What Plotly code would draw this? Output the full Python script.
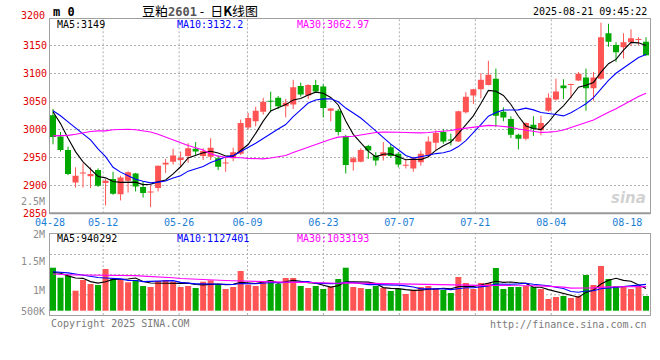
import plotly.graph_objects as go

# ---------------- data ----------------
dates = [
    "04-28", "04-29", "04-30",
    "05-06", "05-07", "05-08", "05-09", "05-12", "05-13", "05-14", "05-15", "05-16",
    "05-19", "05-20", "05-21", "05-22", "05-23", "05-26", "05-27", "05-28", "05-29", "05-30",
    "06-03", "06-04", "06-05", "06-06", "06-09", "06-10", "06-11", "06-12", "06-13",
    "06-16", "06-17", "06-18", "06-19", "06-20", "06-23", "06-24", "06-25", "06-26", "06-27", "06-30",
    "07-01", "07-02", "07-03", "07-04", "07-07", "07-08", "07-09", "07-10", "07-11",
    "07-14", "07-15", "07-16", "07-17", "07-18", "07-21", "07-22", "07-23", "07-24", "07-25",
    "07-28", "07-29", "07-30", "07-31", "08-01",
    "08-04", "08-05", "08-06", "08-07", "08-08", "08-11", "08-12", "08-13", "08-14", "08-15",
    "08-18", "08-19", "08-20", "08-21",
]

opens = [3025, 2987, 2963, 2905, 2921, 2916, 2927, 2904, 2911, 2884,
         2908, 2921, 2897, 2887, 2895, 2937, 2942, 2945, 2952, 2965,
         2952, 2951, 2948, 2939, 2948, 2956, 3003, 3014, 3031, 3050,
         3056, 3041, 3044, 3077, 3060, 3079, 3076, 3033, 3033, 2988,
         2941, 2942, 2970, 2953, 2952, 2968, 2956, 2935, 2930, 2941,
         2953, 2976, 2995, 2981, 2978, 3030, 3060, 3071, 3079, 3090,
         3031, 3018, 2990, 2983, 3008, 2998, 3033, 3053, 3078, 3079,
         3087, 3092, 3073, 3090, 3171, 3150, 3146, 3155, 3159, 3156]
highs = [3036, 2995, 2969, 2932, 2939, 2932, 2930, 2911, 2924, 2917,
         2925, 2922, 2907, 2900, 2935, 2947, 2965, 2960, 2975, 2977,
         2966, 2984, 2953, 2949, 2967, 3017, 3029, 3040, 3056, 3067,
         3059, 3054, 3088, 3083, 3080, 3088, 3080, 3038, 3036, 2990,
         2951, 2966, 2972, 2959, 2977, 2974, 2959, 2947, 2951, 2962,
         2987, 2998, 3000, 2992, 3033, 3066, 3072, 3100, 3122, 3108,
         3039, 3023, 2992, 3012, 3023, 3024, 3064, 3090, 3089, 3081,
         3102, 3108, 3102, 3190, 3188, 3155, 3171, 3178, 3164, 3164]
lows = [2973, 2960, 2918, 2896, 2896, 2895, 2897, 2864, 2883, 2873,
        2887, 2889, 2878, 2861, 2889, 2922, 2937, 2933, 2940, 2953,
        2945, 2945, 2927, 2924, 2943, 2954, 2999, 3005, 3026, 3030,
        3036, 3021, 3036, 3058, 3054, 3065, 3021, 3014, 2989, 2921,
        2926, 2941, 2947, 2935, 2944, 2949, 2932, 2930, 2924, 2935,
        2950, 2962, 2974, 2971, 2977, 3028, 3045, 3055, 3078, 3004,
        3014, 2984, 2964, 2980, 2988, 2989, 3031, 3051, 3054, 3055,
        3086, 3033, 3051, 3088, 3147, 3120, 3126, 3148, 3150, 3131]
closes = [2986, 2963, 2920, 2917, 2922, 2920, 2899, 2908, 2885, 2914,
          2923, 2898, 2886, 2888, 2935, 2940, 2953, 2949, 2966, 2960,
          2961, 2967, 2933, 2940, 2959, 3011, 3020, 3033, 3049, 3049,
          3041, 3047, 3075, 3062, 3079, 3067, 3038, 3037, 2995, 2936,
          2948, 2963, 2962, 2944, 2959, 2952, 2937, 2936, 2948, 2956,
          2978, 2993, 2978, 2980, 3032, 3058, 3071, 3088, 3097, 3024,
          3021, 2990, 2983, 3011, 3001, 3011, 3056, 3067, 3073, 3080,
          3099, 3073, 3092, 3164, 3156, 3137, 3155, 3162, 3160, 3132]
volumes = [1840000, 1412000, 1498000, 856000, 1314000, 1143000, 1100000, 1785000, 1357000, 1314000,
           1216000, 1314000, 1057000, 1014000, 1271000, 1314000, 1241000, 1014000, 1057000, 972000,
           1241000, 1301000, 1143000, 929000, 1014000, 1699000, 1113000, 1057000, 1271000, 1314000,
           1143000, 1400000, 1400000, 1057000, 972000, 1057000, 929000, 1027000, 1357000, 1840000,
           1014000, 972000, 929000, 1057000, 972000, 843000, 929000, 715000, 886000, 1014000,
           1057000, 972000, 886000, 758000, 1442000, 1186000, 929000, 1186000, 1186000, 1828000,
           929000, 1014000, 1014000, 1057000, 1014000, 929000, 501000, 586000, 629000, 544000,
           629000, 1528000, 1100000, 1913000, 1357000, 1057000, 1057000, 929000, 1057000, 629000]

# moving-average values before enough bars exist in this window
price_ma_head = {
    5: [3031, 3010, 2984, 2960],
    10: [3033, 3024, 3013, 3002, 2991, 2981, 2965, 2951, 2932],
    30: [2988, 2988, 2989, 2991, 2994, 2996, 2997, 2997, 2999, 3000,
         3000, 2999, 2997, 2995, 2991, 2986, 2980, 2975, 2971, 2967,
         2963, 2956, 2952, 2950, 2950, 2949, 2948, 2947, 2947],
}
vol_ma_head = {
    5: [1640000, 1600000, 1490000, 1400000],
    10: [1670000, 1650000, 1620000, 1570000, 1510000, 1460000, 1420000, 1400000, 1380000],
    30: [1570000, 1550000, 1540000, 1530000, 1530000, 1530000, 1530000, 1530000, 1520000, 1510000,
         1510000, 1500000, 1480000, 1470000, 1460000, 1440000, 1410000, 1380000, 1360000, 1340000,
         1320000, 1310000, 1300000, 1290000, 1280000, 1270000, 1260000, 1250000, 1245000],
}

tick_dates = ["04-28", "05-12", "05-26", "06-09", "06-23", "07-07", "07-21", "08-04", "08-18"]
price_ticks = [2850, 2900, 2950, 3000, 3050, 3100, 3150]
price_top_label = "3200"
vol_labels = ["2.5M", "2M", "1.5M", "1M", "500K"]
price_ma_text = ["MA5:3149", "MA10:3132.2", "MA30:3062.97"]
vol_ma_text = ["MA5:940292", "MA10:1127401", "MA30:1033193"]
title_text = ("豆粕<span style='color:#555555;font-family:DejaVu Sans Mono;font-size:12px'><b>2601</b></span>"
              "\u00a0-\u00a0\u00a0日<b>K</b>线图")
stamp_text = "2025-08-21 09:45:22"

# ---------------- styles / geometry ----------------
W, H = 660, 360
MONO = "DejaVu Sans Mono"
RED, GREEN = "#ff5454", "#00a800"
MA_COLORS = ["#000000", "#0000ff", "#ff00ff"]
GRID = "#b0b0b0"
BORDER = "#a0a0a0"
X_LO, X_HI = -0.4, 79.53
P_LO, P_HI = 2850, 3196.5
VOL_PER_PX = 42800
VOL_LO, VOL_HI = -4.3 * VOL_PER_PX, 76.4 * VOL_PER_PX


def fy(ypx):
    return 1 - ypx / H


def fx(xpx):
    return xpx / W


XDOM = [fx(50), fx(650)]
PDOM = [fy(213.3), fy(19)]
VDOM = [fy(315), fy(234.3)]

n = len(dates)
xs = list(range(n))
up = [c >= o for o, c in zip(opens, closes)]
colors = [RED if u else GREEN for u in up]


def moving_average(values, period, head):
    out = list(head)
    for i in range(len(head), len(values)):
        out.append(sum(values[i - period + 1:i + 1]) / period)
    return out


fig = go.Figure()

# candle wicks
for flag, col in ((True, RED), (False, GREEN)):
    wx, wy = [], []
    for i in xs:
        if up[i] == flag:
            wx += [i, i, None]
            wy += [lows[i], highs[i], None]
    fig.add_trace(go.Scatter(x=wx, y=wy, mode="lines", line=dict(color=col, width=1),
                             xaxis="x", yaxis="y", hoverinfo="skip"))

# candle bodies
body_base = [min(o, c) for o, c in zip(opens, closes)]
body_h = [max(abs(c - o), 1.8) for o, c in zip(opens, closes)]
fig.add_trace(go.Bar(x=xs, y=body_h, base=body_base, width=0.8,
                     marker=dict(color=colors, line=dict(width=0)),
                     xaxis="x", yaxis="y", hoverinfo="skip"))

# price moving averages
for (p, col) in zip((5, 10, 30), MA_COLORS):
    fig.add_trace(go.Scatter(x=xs, y=moving_average(closes, p, price_ma_head[p]), mode="lines",
                             line=dict(color=col, width=1.1), xaxis="x", yaxis="y", hoverinfo="skip"))

# volume
fig.add_trace(go.Bar(x=xs, y=volumes, width=0.8, marker=dict(color=colors, line=dict(width=0)),
                     xaxis="x2", yaxis="y2", hoverinfo="skip"))
for (p, col) in zip((5, 10, 30), MA_COLORS):
    fig.add_trace(go.Scatter(x=xs, y=moving_average(volumes, p, vol_ma_head[p]), mode="lines",
                             line=dict(color=col, width=1.1), xaxis="x2", yaxis="y2", hoverinfo="skip"))

# tick positions (spread evenly over the full plot width, as the source chart does)
step = (X_HI - X_LO) / (n - 1)
tick_pos = [X_LO + dates.index(d) * step for d in tick_dates]

shapes = []
for t in tick_pos[1:-1]:
    for xr, yr in (("x", "y domain"), ("x2", "y2 domain")):
        shapes.append(dict(type="line", xref=xr, yref=yr, x0=t, x1=t, y0=0, y1=1,
                           line=dict(color=GRID, width=1, dash="2px,2px"), layer="below"))
for f in (0.25, 0.5, 0.75):
    shapes.append(dict(type="line", xref="x2 domain", yref="y2 domain", x0=0, x1=1, y0=f, y1=f,
                       line=dict(color=GRID, width=1, dash="2px,2px"), layer="below"))
# heavier baseline under the price panel
shapes.append(dict(type="line", xref="x domain", yref="y domain", x0=0, x1=1, y0=0, y1=0,
                   line=dict(color="#999999", width=2), layer="above"))

ann = []


def text(x, y, s, color="#000000", size=10, anchor="left", family=MONO, height=None):
    a = dict(x=fx(x), y=fy(y), xref="paper", yref="paper", text=s, showarrow=False,
             xanchor=anchor, yanchor="middle", font=dict(family=family, size=size, color=color))
    if height:
        a["height"] = height
    ann.append(a)


text(51, 11, "<b>m 0</b>", size=12, height=13)
text(140, 10, title_text, size=13, family="Noto Sans CJK SC", height=14)
text(649, 11, stamp_text, anchor="right", height=11)
for s, x0, col in zip(price_ma_text, (55, 175, 295), MA_COLORS):
    text(x0, 24.5, s, color=col, height=10)
for s, x0, col in zip(vol_ma_text, (55, 175, 295), MA_COLORS):
    text(x0, 238, s, color=col, height=10)
text(47, 15, price_top_label, color="#e00000", anchor="right", height=10)
for s, y0 in zip(vol_labels, (201.3, 233.5, 260.8, 289.7, 310.8)):
    text(47, y0, s, color="#8c8c8c", anchor="right", height=8)
text(49, 323, "Copyright 2025 SINA.COM", color="#7a7a7a", height=11)
text(649, 324, "http://finance.sina.com.cn", color="#7a7a7a", anchor="right", height=11)
text(628, 198, "<b><i>sina</i></b>", color="rgba(170,170,170,0.55)", size=15, anchor="center",
     family="DejaVu Sans", height=16)

fig.update_layout(
    width=W, height=H, margin=dict(l=0, r=0, t=0, b=0),
    paper_bgcolor="white", plot_bgcolor="white", showlegend=False, barmode="overlay",
    xaxis=dict(domain=XDOM, range=[X_LO, X_HI], anchor="y", tickvals=tick_pos, ticktext=tick_dates,
               tickfont=dict(family=MONO, size=10, color="#1a7ed6"), ticks="", showgrid=False,
               showline=True, mirror=True, linecolor=BORDER, linewidth=1, zeroline=False,
               automargin=False, fixedrange=True),
    yaxis=dict(domain=PDOM, range=[P_LO, P_HI], anchor="x", tickvals=price_ticks,
               tickfont=dict(family=MONO, size=10, color="#e00000"), ticks="",
               showgrid=True, gridcolor=GRID, griddash="2px,2px", gridwidth=1,
               showline=True, mirror=True, linecolor=BORDER, linewidth=1, zeroline=False,
               automargin=False),
    xaxis2=dict(domain=XDOM, range=[X_LO, X_HI], anchor="y2", showticklabels=False, ticks="",
                showgrid=False, showline=True, mirror=True, linecolor=BORDER, linewidth=1,
                zeroline=False, automargin=False),
    yaxis2=dict(domain=VDOM, range=[VOL_LO, VOL_HI], anchor="x2", showticklabels=False, ticks="",
                showgrid=False, showline=True, mirror=True, linecolor=BORDER, linewidth=1,
                zeroline=False, automargin=False),
    shapes=shapes, annotations=ann,
)

fig.write_html("out.html", config={"displayModeBar": False, "staticPlot": True},
               post_script="document.body.style.margin='0';document.body.style.padding='0';")
